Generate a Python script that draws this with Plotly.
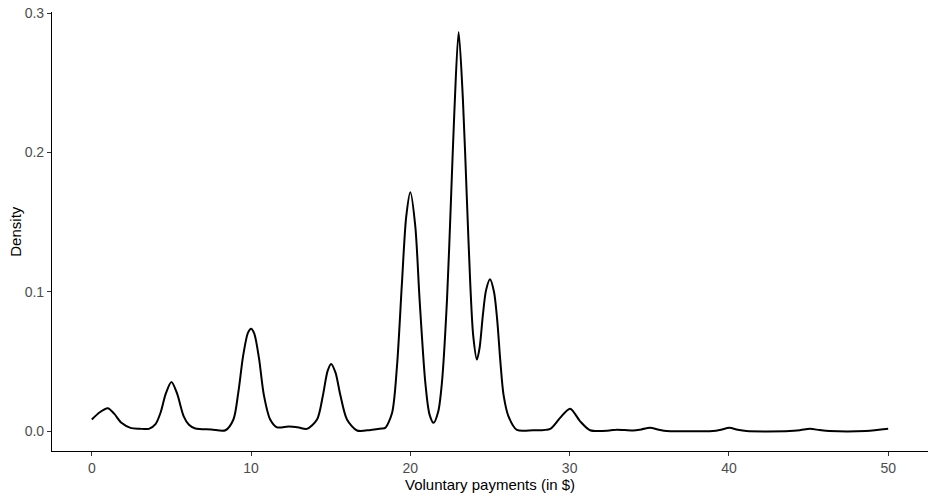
import plotly.graph_objects as go

# Density curve
payment = [0.0, 0.5, 1.0, 1.4, 1.86, 2.43, 3.0, 3.58, 4.0, 4.31, 4.65, 5.0, 5.35, 5.77, 6.1, 6.5,
           7.5, 8.39, 8.89, 9.2, 9.5, 9.8, 10.0, 10.2, 10.5, 10.8, 11.2, 11.63, 12.36, 13.0, 13.5,
           14.14, 14.5, 14.8, 15.02, 15.3, 15.6, 16.02, 16.65, 17.5, 18.2, 18.42, 18.85, 19.16,
           19.47, 19.74, 20.0, 20.31, 20.58, 20.94, 21.2, 21.46, 21.75, 21.98, 22.3, 22.55, 22.76,
           23.03, 23.3, 23.55, 23.76, 23.95, 24.18, 24.35, 24.55, 24.75, 25.0, 25.25, 25.45, 25.65,
           25.85, 26.16, 26.69, 27.7, 28.78, 29.4, 30.03, 30.66, 31.29, 32.5, 32.96, 34.0, 34.5,
           35.05, 35.6, 36.1, 39.0, 39.5, 40.03, 40.55, 41.1, 43.8, 44.5, 45.09, 45.7, 46.3, 48.6,
           50.0]
density = [0.0083, 0.0135, 0.0164, 0.0125, 0.0059, 0.0023, 0.0017, 0.0016, 0.0050, 0.013, 0.027,
           0.0352, 0.027, 0.0106, 0.0045, 0.0018, 0.0012, 0.0006, 0.0083, 0.028, 0.054, 0.0705,
           0.0735, 0.070, 0.052, 0.026, 0.0083, 0.0027, 0.0032, 0.0025, 0.0016, 0.0083, 0.025,
           0.043, 0.0482, 0.042, 0.026, 0.0083, 0.0004, 0.0008, 0.0018, 0.0023, 0.013, 0.0465,
           0.106, 0.154, 0.1715, 0.147, 0.0943, 0.0346, 0.012, 0.0059, 0.014, 0.0346, 0.0943,
           0.166, 0.2285, 0.2865, 0.2378, 0.166, 0.106, 0.068, 0.0513, 0.060, 0.083, 0.101,
           0.109, 0.100, 0.080, 0.050, 0.026, 0.0106, 0.0008, 0.0006, 0.0016, 0.0095, 0.0161,
           0.007, 0.0006, 0.0004, 0.001, 0.0004, 0.0012, 0.0023, 0.0010, 0.0001, 0.0001, 0.0010,
           0.0023, 0.0009, 0.0, 0.0, 0.0007, 0.0016, 0.0007, 0.0, 0.0, 0.0016]

x_ticks = [0, 10, 20, 30, 40, 50]
y_ticks = [0.0, 0.1, 0.2, 0.3]
y_tick_labels = ["0.0", "0.1", "0.2", "0.3"]
x_title = "Voluntary payments (in $)"
y_title = "Density"

fig = go.Figure()
fig.add_trace(go.Scatter(x=payment, y=density, mode="lines",
                         line=dict(color="black", width=2, shape="spline", smoothing=0.8),
                         hoverinfo="x+y", showlegend=False))

font_family = "Liberation Sans, Arial, Helvetica, sans-serif"
axis_common = dict(ticks="outside", ticklen=4, tickcolor="#333333", tickwidth=1,
                   showline=True, linecolor="black", linewidth=1.2, showgrid=False,
                   zeroline=False, automargin=False,
                   tickfont=dict(size=14, color="#4d4d4d", family=font_family))
fig.update_layout(
    width=935, height=496,
    margin=dict(l=52, r=7, t=12, b=45),
    paper_bgcolor="white", plot_bgcolor="white",
    font=dict(family=font_family, color="black"),
    xaxis=dict(range=[-2.5, 52.5], tickvals=x_ticks, **axis_common),
    yaxis=dict(range=[-0.0143, 0.3008], tickvals=y_ticks, ticktext=y_tick_labels, **axis_common),
    annotations=[
        dict(text=x_title, xref="paper", yref="paper", x=0.5, y=-0.076, xanchor="center",
             yanchor="middle", showarrow=False, font=dict(size=15, color="black")),
        dict(text=y_title, xref="paper", yref="paper", x=-0.042, y=0.5, xanchor="center",
             yanchor="middle", textangle=-90, showarrow=False, font=dict(size=15, color="black")),
    ],
)

fig.write_html("out.html", config={"displayModeBar": False},
               post_script="document.body.style.margin='0px';")
